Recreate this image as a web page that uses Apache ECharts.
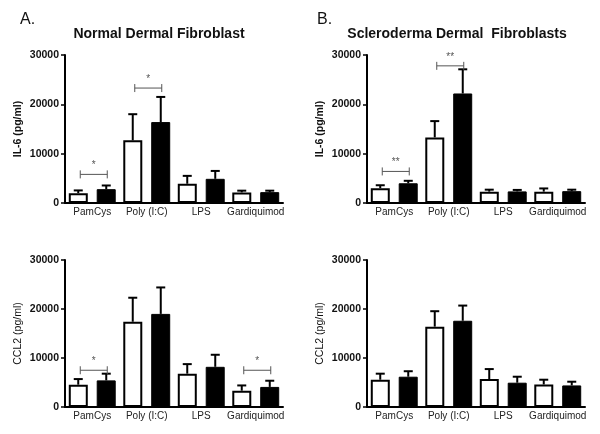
<!DOCTYPE html>
<html>
<head>
<meta charset="utf-8">
<script src="https://cdn.jsdelivr.net/npm/echarts@6/dist/echarts.min.js"></script>
<style>
html,body{margin:0;padding:0;background:#fff;}
#chart{width:600px;height:434px;}
</style>
</head>
<body>
<div id="chart"></div>
<script>
// ---- data ----
const categories = ['PamCys', 'Poly (I:C)', 'LPS', 'Gardiquimod'];
const yMin = 0, yMax = 30000, yStep = 10000;

// Panel A: Normal Dermal Fibroblast, IL-6
const normIL6White = [2000, 12700, 3900, 2150];
const normIL6WhiteErr = [550, 5300, 1600, 350];
const normIL6Black = [2800, 16400, 4900, 2200];
const normIL6BlackErr = [750, 5100, 1600, 300];
const normIL6Sig = [[0, 5800, '*'], [1, 23300, '*']];

// Panel B: Scleroderma Dermal Fibroblasts, IL-6
const sclIL6White = [3000, 13300, 2300, 2300];
const sclIL6WhiteErr = [600, 3300, 400, 650];
const sclIL6Black = [4000, 22200, 2350, 2400];
const sclIL6BlackErr = [500, 4900, 300, 300];
const sclIL6Sig = [[0, 6400, '**'], [1, 27800, '**']];

// Panel A: CCL2
const normCCL2White = [4550, 17400, 6800, 3330];
const normCCL2WhiteErr = [1150, 4900, 1950, 1070];
const normCCL2Black = [5430, 19000, 8200, 4100];
const normCCL2BlackErr = [1370, 5400, 2460, 1260];
const normCCL2Sig = [[0, 7500, '*'], [3, 7500, '*']];

// Panel B: CCL2
const sclCCL2White = [5570, 16400, 5700, 4600];
const sclCCL2WhiteErr = [1230, 3150, 2040, 970];
const sclCCL2Black = [6180, 17600, 4960, 4400];
const sclCCL2BlackErr = [1120, 3100, 1220, 760];
const sclCCL2Sig = [];

// ---- layout / style ----
const FONT = "'Liberation Sans', Arial, sans-serif";
const BAR_W = 19, PAIR_OFF = 14, CAP_W = 9;
const panels = [
  {grid: {left: 65, top: 55, width: 218, height: 148}, yName: 'IL-6 (pg/ml)', nameBold: true,
   w: normIL6White, we: normIL6WhiteErr, b: normIL6Black, be: normIL6BlackErr, sig: normIL6Sig},
  {grid: {left: 367, top: 55, width: 218, height: 148}, yName: 'IL-6 (pg/ml)', nameBold: true,
   w: sclIL6White, we: sclIL6WhiteErr, b: sclIL6Black, be: sclIL6BlackErr, sig: sclIL6Sig},
  {grid: {left: 65, top: 260, width: 218, height: 147}, yName: 'CCL2 (pg/ml)', nameBold: false,
   w: normCCL2White, we: normCCL2WhiteErr, b: normCCL2Black, be: normCCL2BlackErr, sig: normCCL2Sig},
  {grid: {left: 367, top: 260, width: 218, height: 147}, yName: 'CCL2 (pg/ml)', nameBold: false,
   w: sclCCL2White, we: sclCCL2WhiteErr, b: sclCCL2Black, be: sclCCL2BlackErr, sig: sclCCL2Sig}
];

function errRender(offset) {
  return function (params, api) {
    const i = api.value(0), m = api.value(1), e = api.value(2);
    const base = api.coord([i, m]);
    const top = api.coord([i, m + e]);
    const x = base[0] + offset;
    const st = {stroke: '#000', lineWidth: 2};
    return {type: 'group', children: [
      {type: 'line', shape: {x1: x, y1: base[1], x2: x, y2: top[1]}, style: st},
      {type: 'line', shape: {x1: x - CAP_W / 2, y1: top[1], x2: x + CAP_W / 2, y2: top[1]}, style: st}
    ]};
  };
}
function sigRender(sigList) {
  return function (params, api) {
    const i = api.value(0), v = api.value(1);
    const p = api.coord([i, v]);
    const x1 = p[0] - PAIR_OFF + 2, x2 = p[0] + PAIR_OFF + 1, y = p[1];
    const st = {stroke: '#555', lineWidth: 1};
    const label = sigList[params.dataIndex][2];
    return {type: 'group', children: [
      {type: 'line', shape: {x1: x1, y1: y, x2: x2, y2: y}, style: st},
      {type: 'line', shape: {x1: x1, y1: y - 4, x2: x1, y2: y + 4}, style: st},
      {type: 'line', shape: {x1: x2, y1: y - 4, x2: x2, y2: y + 4}, style: st},
      {type: 'text', style: {x: (x1 + x2) / 2, y: y - 9, text: label, fill: '#555',
        font: '10px ' + FONT, align: 'center', verticalAlign: 'middle'}}
    ]};
  };
}

const option = {
  backgroundColor: '#fff',
  animation: false,
  textStyle: {fontFamily: FONT},
  title: [
    {text: 'A.', left: 15, top: 7, textStyle: {fontSize: 16, fontWeight: 'normal', color: '#111', fontFamily: FONT}},
    {text: 'B.', left: 312, top: 7, textStyle: {fontSize: 16, fontWeight: 'normal', color: '#111', fontFamily: FONT}},
    {text: 'Normal Dermal Fibroblast', left: 154, top: 22, textAlign: 'center',
     textStyle: {fontSize: 14, fontWeight: 'bold', color: '#111', fontFamily: FONT}},
    {text: 'Scleroderma Dermal  Fibroblasts', left: 452, top: 22, textAlign: 'center',
     textStyle: {fontSize: 14, fontWeight: 'bold', color: '#111', fontFamily: FONT}}
  ],
  grid: panels.map(p => p.grid),
  xAxis: panels.map((p, k) => ({
    type: 'category', gridIndex: k, data: categories,
    axisLine: {lineStyle: {color: '#000', width: 2}},
    axisTick: {show: false},
    axisLabel: {fontSize: 10, color: '#222', margin: 4, interval: 0, fontFamily: FONT},
    splitLine: {show: false}
  })),
  yAxis: panels.map((p, k) => ({
    type: 'value', gridIndex: k, min: yMin, max: yMax, interval: yStep,
    name: p.yName, nameLocation: 'middle', nameGap: 41,
    nameTextStyle: {fontSize: 10.5, fontWeight: p.nameBold ? 'bold' : 'normal', color: '#111', fontFamily: FONT},
    axisLine: {show: true, lineStyle: {color: '#000', width: 2}},
    axisTick: {show: true, length: 4, lineStyle: {color: '#000', width: 1.5}},
    axisLabel: {fontSize: 10.5, fontWeight: 'bold', color: '#111', margin: 6, fontFamily: FONT,
      formatter: v => String(v)},
    splitLine: {show: false}
  })),
  series: []
};

panels.forEach((p, k) => {
  option.series.push({
    type: 'bar', xAxisIndex: k, yAxisIndex: k, data: p.w, barWidth: BAR_W, barGap: '47%',
    itemStyle: {color: '#fff', borderColor: '#000', borderWidth: 2}
  });
  option.series.push({
    type: 'bar', xAxisIndex: k, yAxisIndex: k, data: p.b, barWidth: BAR_W, barGap: '47%',
    itemStyle: {color: '#000', borderColor: '#000', borderWidth: 1}
  });
  option.series.push({
    type: 'custom', xAxisIndex: k, yAxisIndex: k, z: 5,
    data: p.w.map((m, i) => [i, m, p.we[i]]), encode: {x: 0, y: 1},
    renderItem: errRender(-PAIR_OFF)
  });
  option.series.push({
    type: 'custom', xAxisIndex: k, yAxisIndex: k, z: 5,
    data: p.b.map((m, i) => [i, m, p.be[i]]), encode: {x: 0, y: 1},
    renderItem: errRender(PAIR_OFF)
  });
  if (p.sig.length) {
    option.series.push({
      type: 'custom', xAxisIndex: k, yAxisIndex: k, z: 6,
      data: p.sig.map(s => [s[0], s[1]]), encode: {x: 0, y: 1},
      renderItem: sigRender(p.sig)
    });
  }
});

const chart = echarts.init(document.getElementById('chart'), null, {renderer: 'canvas'});
chart.setOption(option);
</script>
</body>
</html>
